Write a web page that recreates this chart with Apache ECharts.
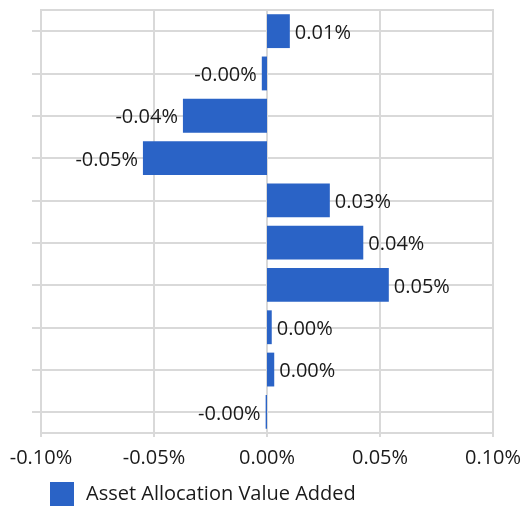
<!DOCTYPE html>
<html>
<head>
<meta charset="utf-8">
<script src="https://cdn.jsdelivr.net/npm/echarts@6/dist/echarts.min.js"></script>
<style>
html,body{margin:0;padding:0;background:#fff;}
#chart{width:526px;height:509px;}
</style>
</head>
<body>
<div id="chart"></div>
<script>
var categories = ['Segment 1','Segment 2','Segment 3','Segment 4','Segment 5','Segment 6','Segment 7','Segment 8','Segment 9','Segment 10'];
var seriesName = 'Asset Allocation Value Added';
var values = [0.0101, -0.0023, -0.0372, -0.0549, 0.0278, 0.0426, 0.0539, 0.0021, 0.0032, -0.0006];
var xTicks = { min: -0.1, max: 0.1, interval: 0.05 };

var FONT = '"Open Sans"';
var FS = 20;
var GRIDC = '#d9d9d9';
var BARC = '#2a63c6';
var TEXTC = '#1a1a1a';

function pct(v) { return v.toFixed(2) + '%'; }

var chart = echarts.init(document.getElementById('chart'), null, {renderer: 'canvas'});
chart.setOption({
  animation: false,
  textStyle: { fontFamily: FONT },
  grid: { left: 41, right: 33, top: 10, bottom: 76, show: true, borderColor: GRIDC, borderWidth: 2, containLabel: false },
  legend: {
    data: [seriesName],
    left: 50, top: 482,
    padding: 0,
    itemWidth: 24, itemHeight: 24,
    icon: 'rect',
    textStyle: { fontFamily: FONT, fontSize: FS, color: TEXTC, padding: [5,0,0,7] }
  },
  xAxis: {
    type: 'value',
    min: xTicks.min, max: xTicks.max, interval: xTicks.interval,
    axisLine: { show: true, lineStyle: { color: GRIDC, width: 2 } },
    axisTick: { show: true, length: 4, lineStyle: { color: GRIDC, width: 2 } },
    splitLine: { show: true, lineStyle: { color: GRIDC, width: 2 } },
    axisLabel: { formatter: pct, fontFamily: FONT, fontSize: FS, color: TEXTC, margin: 15 }
  },
  yAxis: {
    type: 'category',
    data: categories,
    inverse: true,
    axisLine: { show: true, onZero: false, lineStyle: { color: GRIDC, width: 2 } },
    axisTick: { show: true, alignWithLabel: true, inside: false, length: 9, lineStyle: { color: GRIDC, width: 2 } },
    splitLine: { show: true, alignWithLabel: true, lineStyle: { color: GRIDC, width: 2 } },
    axisLabel: { show: false }
  },
  series: [{
    name: seriesName,
    type: 'bar',
    barCategoryGap: '20%',
    itemStyle: { color: BARC },
    label: {
      show: true,
      fontFamily: FONT, fontSize: FS, color: TEXTC,
      distance: 5,
      offset: [0, 2],
      formatter: function (p) { return pct(p.value); }
    },
    data: values.map(function (v) {
      return { value: v, label: { position: v < 0 ? 'left' : 'right' } };
    })
  }]
});
</script>
</body>
</html>
